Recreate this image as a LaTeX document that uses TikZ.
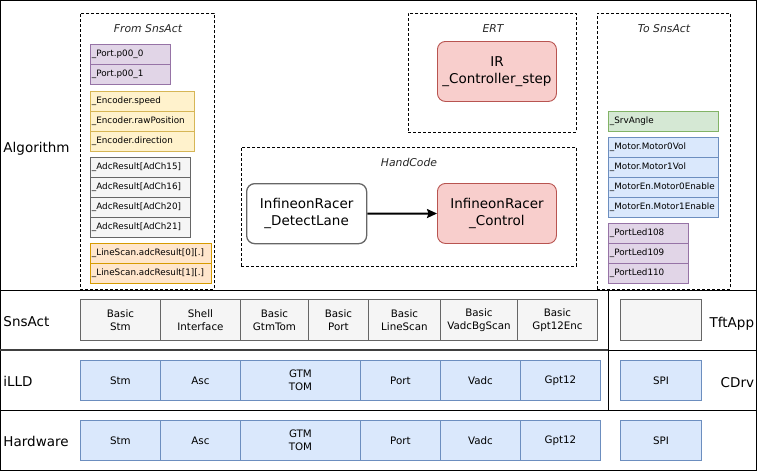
\documentclass[tikz,border=0pt]{standalone}
\usepackage{fontspec}
\setmainfont{DejaVu Sans}
\usetikzlibrary{arrows.meta}

\definecolor{purpleFill}{HTML}{E1D5E7}\definecolor{purpleLine}{HTML}{9673A6}
\definecolor{yellowFill}{HTML}{FFF2CC}\definecolor{yellowLine}{HTML}{D6B656}
\definecolor{greyFill}{HTML}{F5F5F5}\definecolor{greyLine}{HTML}{666666}
\definecolor{orangeFill}{HTML}{FFE6CC}\definecolor{orangeLine}{HTML}{D79B00}
\definecolor{greenFill}{HTML}{D5E8D4}\definecolor{greenLine}{HTML}{82B366}
\definecolor{blueFill}{HTML}{DAE8FC}\definecolor{blueLine}{HTML}{6C8EBF}
\definecolor{redFill}{HTML}{F8CECC}\definecolor{redLine}{HTML}{B85450}

\begin{document}
\begin{tikzpicture}[x=1pt,y=-1pt,line width=0.9pt,
  layerlabel/.style={font=\fontsize{13.5}{15}\selectfont, inner sep=0pt},
  group/.style={draw=black, dash pattern=on 3pt off 2pt, line width=0.8pt,
    anchor=north west, inner sep=0pt},
  grouptitle/.style={font=\fontsize{10.8}{12}\selectfont\itshape, text=black!85,
    inner sep=0pt, anchor=base},
  sig/.style={draw, anchor=north west, inner xsep=1.5pt, inner ysep=0pt,
    minimum height=20pt, align=left, font=\fontsize{8.8}{10}\selectfont},
  sigpurple/.style={sig, fill=purpleFill, draw=purpleLine, text width=77pt},
  sigyellow/.style={sig, fill=yellowFill, draw=yellowLine, text width=101pt},
  siggrey/.style={sig, fill=greyFill, draw=greyLine, text width=97pt},
  sigorange/.style={sig, fill=orangeFill, draw=orangeLine, text width=118pt},
  siggreen/.style={sig, fill=greenFill, draw=greenLine, text width=107pt},
  sigblue/.style={sig, fill=blueFill, draw=blueLine, text width=107pt},
  block/.style={draw, rounded corners=8pt, anchor=north west, minimum width=119pt,
    minimum height=60pt, align=center, inner sep=0pt,
    font=\fontsize{13.5}{17.5}\selectfont},
  module/.style={draw, anchor=north west, inner sep=0pt, align=center,
    font=\fontsize{10.3}{13.5}\selectfont},
  snsmod/.style={module, fill=greyFill, draw=greyLine, minimum height=41pt},
  hwmod/.style={module, fill=blueFill, draw=blueLine, minimum height=40pt},
]
\useasboundingbox (0,0) rectangle (757,471);

% outer frame and layer separators
\draw[line width=1pt] (0.5,0.5) rectangle (756.5,470.5);
\draw[line width=1pt] (0,290) -- (757,290);
\draw[line width=1pt] (608,350) -- (757,350);
\draw[line width=1.8pt, draw=black!75] (0,350) -- (608,350);
\draw[line width=1pt] (0,410) -- (757,410);
\draw[line width=1pt] (608,290) -- (608,410);

% layer names
\node[layerlabel, anchor=base west] (lAlg) at (3,152) {Algorithm};
\node[layerlabel, anchor=base west] (lSns) at (3,326.5) {SnsAct};
\node[layerlabel, anchor=base west] (lIlld) at (3,386.5) {iLLD};
\node[layerlabel, anchor=base west] (lHw) at (3,446.5) {Hardware};
\node[layerlabel, anchor=base east] (lTft) at (754.5,327) {TftApp};
\node[layerlabel, anchor=base east] (lCdrv) at (754.5,387) {CDrv};

% inputs coming from SnsAct
\node[group, minimum width=134pt, minimum height=276pt] (from) at (80,13) {};
\node[grouptitle] (fromT) at (148,32) {From SnsAct};
\node[sigpurple] (p0) at (90,44) {\_Port.p00\_0};
\node[sigpurple] (p1) at (90,64) {\_Port.p00\_1};
\node[sigyellow] (e0) at (90,91) {\_Encoder.speed};
\node[sigyellow] (e1) at (90,111) {\_Encoder.rawPosition};
\node[sigyellow] (e2) at (90,131) {\_Encoder.direction};
\node[siggrey] (a0) at (90,157) {\_AdcResult[AdCh15]};
\node[siggrey] (a1) at (90,177) {\_AdcResult[AdCh16]};
\node[siggrey] (a2) at (90,197) {\_AdcResult[AdCh20]};
\node[siggrey] (a3) at (90,217) {\_AdcResult[AdCh21]};
\node[sigorange] (l0) at (90,243) {\_LineScan.adcResult[0][.]};
\node[sigorange] (l1) at (90,263) {\_LineScan.adcResult[1][.]};

% generated code
\node[group, minimum width=168pt, minimum height=119pt] (ert) at (408,13) {};
\node[grouptitle] (ertT) at (493,32.5) {ERT};
\node[block, fill=redFill, draw=redLine] (step) at (437,41)
  {IR\\\_Controller\_step};

% hand written code
\node[group, minimum width=335pt, minimum height=119pt] (hand) at (241,147) {};
\node[grouptitle] (handT) at (409,166.5) {HandCode};
\node[block, fill=white, draw=greyLine, line width=1.3pt, minimum width=120pt] (detect)
  at (246,183) {InfineonRacer\\\_DetectLane};
\node[block, fill=redFill, draw=redLine] (control) at (437,183)
  {InfineonRacer\\\_Control};
\draw[line width=2pt, -{Stealth[length=10pt, width=9pt, inset=1.5pt]}]
  (detect) -- (control);

% outputs going to SnsAct
\node[group, minimum width=133pt, minimum height=276pt] (to) at (597,13) {};
\node[grouptitle] (toT) at (664,32) {To SnsAct};
\node[siggreen] (srv) at (608,111) {\_SrvAngle};
\node[sigblue] (m0) at (608,137) {\_Motor.Motor0Vol};
\node[sigblue] (m1) at (608,157) {\_Motor.Motor1Vol};
\node[sigblue] (m2) at (608,177) {\_MotorEn.Motor0Enable};
\node[sigblue] (m3) at (608,197) {\_MotorEn.Motor1Enable};
\node[sigpurple] (led0) at (608,223) {\_PortLed108};
\node[sigpurple] (led1) at (608,243) {\_PortLed109};
\node[sigpurple] (led2) at (608,263) {\_PortLed110};

% SnsAct layer
\node[snsmod, minimum width=80pt] (sStm) at (80,299) {Basic\\Stm};
\node[snsmod, minimum width=80pt] (sShell) at (160,299) {Shell\\Interface};
\node[snsmod, minimum width=68pt] (sGtm) at (240,299) {Basic\\GtmTom};
\node[snsmod, minimum width=60pt] (sPort) at (308,299) {Basic\\Port};
\node[snsmod, minimum width=72pt] (sLine) at (368,299) {Basic\\LineScan};
\node[snsmod, minimum width=77pt] (sVadc) at (440,299) {Basic\\VadcBgScan};
\node[snsmod, minimum width=80pt] (sGpt) at (517,299) {Basic\\Gpt12Enc};
\node[snsmod, minimum width=81pt] (sTft) at (620,299) {};

% iLLD layer
\node[hwmod, minimum width=80pt] (iStm) at (80,360) {Stm};
\node[hwmod, minimum width=80pt] (iAsc) at (160,360) {Asc};
\node[hwmod, minimum width=120pt] (iGtm) at (240,360) {GTM\\TOM};
\node[hwmod, minimum width=80pt] (iPort) at (360,360) {Port};
\node[hwmod, minimum width=80pt] (iVadc) at (440,360) {Vadc};
\node[hwmod, minimum width=80pt] (iGpt) at (520,360) {Gpt12};
\node[hwmod, minimum width=81pt] (iSpi) at (620,360) {SPI};

% hardware layer
\node[hwmod, minimum width=80pt] (hStm) at (80,420) {Stm};
\node[hwmod, minimum width=80pt] (hAsc) at (160,420) {Asc};
\node[hwmod, minimum width=120pt] (hGtm) at (240,420) {GTM\\TOM};
\node[hwmod, minimum width=80pt] (hPort) at (360,420) {Port};
\node[hwmod, minimum width=80pt] (hVadc) at (440,420) {Vadc};
\node[hwmod, minimum width=80pt] (hGpt) at (520,420) {Gpt12};
\node[hwmod, minimum width=81pt] (hSpi) at (620,420) {SPI};
\end{tikzpicture}
\end{document}
